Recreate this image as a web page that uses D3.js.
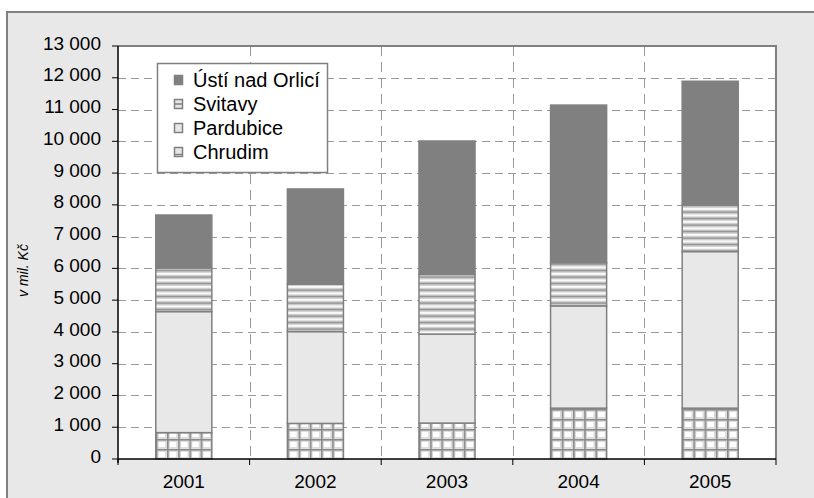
<!DOCTYPE html>
<html>
<head>
<meta charset="utf-8">
<script src="https://cdn.jsdelivr.net/npm/d3@7"></script>
<style>
  html, body { margin: 0; padding: 0; background: #fff; }
  svg { display: block; font-family: 'Liberation Sans', Arial, sans-serif; }
</style>
</head>
<body>
<svg id="chart" width="814" height="498"></svg>
<script>
const years = ['2001', '2002', '2003', '2004', '2005']
const seriesNames = ['Chrudim', 'Pardubice', 'Svitavy', 'Ústí nad Orlicí']
// v mil. Kč, stacked from the bottom
const chrudim = [830, 1120, 1130, 1600, 1600]
const pardubice = [3810, 2890, 2800, 3220, 4930]
const svitavy = [1370, 1490, 1880, 1360, 1470]
const ustiNadOrlici = [1670, 3000, 4200, 4960, 3890]
const yTicks = d3.range(0, 13001, 1000)

const width = 814
const height = 498
const margin = { top: 46, right: 38, bottom: 39, left: 118 }

const svg = d3.select('#chart')

// outer panel
svg.append('rect')
  .attr('x', 7).attr('y', 12)
  .attr('width', width).attr('height', height)
  .attr('fill', '#e8e8e8')
  .attr('stroke', '#808080')
  .attr('stroke-width', 2)

const x = d3.scaleBand()
  .domain(years)
  .range([margin.left, width - margin.right])
  .paddingInner(0.574)
  .paddingOuter(0.287)

const y = d3.scaleLinear()
  .domain([0, 13000])
  .range([height - margin.bottom, margin.top])

const step = x.step()
const x0 = margin.left
const x1 = width - margin.right

// plot area
svg.append('rect')
  .attr('x', x0).attr('y', y(13000))
  .attr('width', x1 - x0).attr('height', y(0) - y(13000))
  .attr('fill', '#fff')

// horizontal grid
svg.append('g')
  .selectAll('line')
  .data(yTicks.filter(d => d > 0 && d < 13000))
  .enter().append('line')
  .attr('x1', x0).attr('x2', x1)
  .attr('y1', d => Math.round(y(d)) + 0.5)
  .attr('y2', d => Math.round(y(d)) + 0.5)
  .attr('stroke', '#999')
  .attr('stroke-dasharray', '8,5')

// vertical grid at category boundaries
svg.append('g')
  .selectAll('line')
  .data(years.slice(1))
  .enter().append('line')
  .attr('x1', d => Math.round(x(d) - x.step() * x.paddingInner() / 2) + 0.5)
  .attr('x2', d => Math.round(x(d) - x.step() * x.paddingInner() / 2) + 0.5)
  .attr('y1', y(13000)).attr('y2', y(0))
  .attr('stroke', '#999')
  .attr('stroke-dasharray', '10,6')

// plot border top / right
svg.append('path')
  .attr('d', `M${x0},${y(13000)}H${x1}V${y(0)}`)
  .attr('fill', 'none')
  .attr('stroke', '#808080')
  .attr('stroke-width', 2)

// patterns
const defs = svg.append('defs')

const gridPattern = (id, px, py, cw, ch) => {
  const p = defs.append('pattern')
    .attr('id', id)
    .attr('patternUnits', 'userSpaceOnUse')
    .attr('x', px).attr('y', py)
    .attr('width', cw).attr('height', ch)
  p.append('rect').attr('width', cw).attr('height', ch).attr('fill', '#fff')
  p.append('rect').attr('x', 2).attr('y', 2).attr('width', cw - 3).attr('height', ch - 3)
    .attr('fill', 'none').attr('stroke', '#d4d4d4').attr('stroke-width', 1.5)
  p.append('rect').attr('width', cw).attr('height', 1.6).attr('fill', '#8a8a8a')
  p.append('rect').attr('width', 1.6).attr('height', ch).attr('fill', '#8a8a8a')
}

const stripePattern = (id) => {
  const p = defs.append('pattern')
    .attr('id', id)
    .attr('patternUnits', 'userSpaceOnUse')
    .attr('width', 8).attr('height', 6.5)
  p.append('rect').attr('width', 8).attr('height', 6.5).attr('fill', '#d6d6d6')
  p.append('rect').attr('y', 0).attr('width', 8).attr('height', 1.8).attr('fill', '#fafafa')
  p.append('rect').attr('y', 3.3).attr('width', 8).attr('height', 1.6).attr('fill', '#8e8e8e')
}

stripePattern('stripes')
years.forEach((yr, i) => gridPattern(`grid-${i}`, x(yr), y(0), x.bandwidth() / 5, 10))

const stack = d3.stack().keys(seriesNames)
const table = years.map((yr, i) => ({
  year: yr,
  'Chrudim': chrudim[i],
  'Pardubice': pardubice[i],
  'Svitavy': svitavy[i],
  'Ústí nad Orlicí': ustiNadOrlici[i]
}))
const layers = stack(table)

const fillFor = (key, i) => {
  if (key === 'Chrudim') return `url(#grid-${i})`
  if (key === 'Pardubice') return '#e8e8e8'
  if (key === 'Svitavy') return 'url(#stripes)'
  return '#808080'
}

layers.forEach(layer => {
  svg.append('g')
    .selectAll('rect')
    .data(layer)
    .enter().append('rect')
    .attr('x', d => x(d.data.year))
    .attr('y', d => y(d[1]))
    .attr('width', x.bandwidth())
    .attr('height', d => y(d[0]) - y(d[1]))
    .attr('fill', (d, i) => fillFor(layer.key, i))
    .attr('stroke', '#808080')
    .attr('stroke-width', 1.5)
})

// y axis
const yAxis = svg.append('g')
  .attr('transform', `translate(${x0},0)`)
yAxis.append('line')
  .attr('y1', y(13000)).attr('y2', y(0) + 4)
  .attr('stroke', '#000').attr('stroke-width', 1.5)
yAxis.selectAll('.tick')
  .data(yTicks)
  .enter().append('line')
  .attr('x1', -6).attr('x2', 0)
  .attr('y1', d => y(d)).attr('y2', d => y(d))
  .attr('stroke', '#000')
yAxis.selectAll('text')
  .data(yTicks)
  .enter().append('text')
  .attr('x', -17)
  .attr('y', d => y(d) - 3)
  .attr('dy', '0.35em')
  .attr('text-anchor', 'end')
  .attr('font-size', 19)
  .attr('fill', '#000')
  .text(d => d3.format(',')(d).replace(/,/g, ' '))

// x axis
const xAxis = svg.append('g')
  .attr('transform', `translate(0,${y(0)})`)
xAxis.append('line')
  .attr('x1', x0).attr('x2', x1)
  .attr('stroke', '#000').attr('stroke-width', 1.5)
xAxis.selectAll('.tick')
  .data(d3.range(years.length + 1))
  .enter().append('line')
  .attr('x1', i => x0 + i * step).attr('x2', i => x0 + i * step)
  .attr('y1', 0).attr('y2', 6)
  .attr('stroke', '#000')
xAxis.selectAll('text')
  .data(years)
  .enter().append('text')
  .attr('x', d => x(d) + x.bandwidth() / 2)
  .attr('y', 29)
  .attr('text-anchor', 'middle')
  .attr('font-size', 19)
  .attr('fill', '#000')
  .text(d => d)

// y title
svg.append('text')
  .attr('transform', `translate(28,${(y(0) + y(13000)) / 2 + 18}) rotate(-90)`)
  .attr('text-anchor', 'middle')
  .attr('font-size', 14)
  .attr('font-style', 'italic')
  .attr('fill', '#000')
  .text('v mil. Kč')

// legend
const legend = svg.append('g')
legend.append('rect')
  .attr('x', 157.5).attr('y', 63.5)
  .attr('width', 170).attr('height', 109)
  .attr('fill', '#fff')
  .attr('stroke', '#808080')
  .attr('stroke-width', 1.5)

const legendOrder = seriesNames.slice().reverse()
legendOrder.forEach((name, i) => {
  const cy = 80 + i * 24
  const g = legend.append('g')
  if (name === 'Chrudim') {
    g.append('rect').attr('x', 174.5).attr('y', cy - 4.5).attr('width', 8).attr('height', 9)
      .attr('fill', '#e6e6e6').attr('stroke', '#808080').attr('stroke-width', 1.5)
    g.append('line').attr('x1', 175).attr('x2', 182).attr('y1', cy + 2.5).attr('y2', cy + 2.5)
      .attr('stroke', '#808080').attr('stroke-width', 1.5)
  } else if (name === 'Svitavy') {
    g.append('rect').attr('x', 174.5).attr('y', cy - 4.5).attr('width', 8).attr('height', 9)
      .attr('fill', '#e6e6e6').attr('stroke', '#808080').attr('stroke-width', 1.5)
    g.append('line').attr('x1', 175).attr('x2', 182).attr('y1', cy).attr('y2', cy)
      .attr('stroke', '#808080').attr('stroke-width', 1.5)
  } else {
    g.append('rect').attr('x', 174.5).attr('y', cy - 4.5).attr('width', 8).attr('height', 9)
      .attr('fill', fillFor(name, 0)).attr('stroke', '#808080').attr('stroke-width', 1.5)
  }
  g.append('text')
    .attr('x', 193)
    .attr('y', cy)
    .attr('dy', '0.35em')
    .attr('font-size', 20)
    .attr('fill', '#000')
    .text(name)
})
</script>
</body>
</html>
